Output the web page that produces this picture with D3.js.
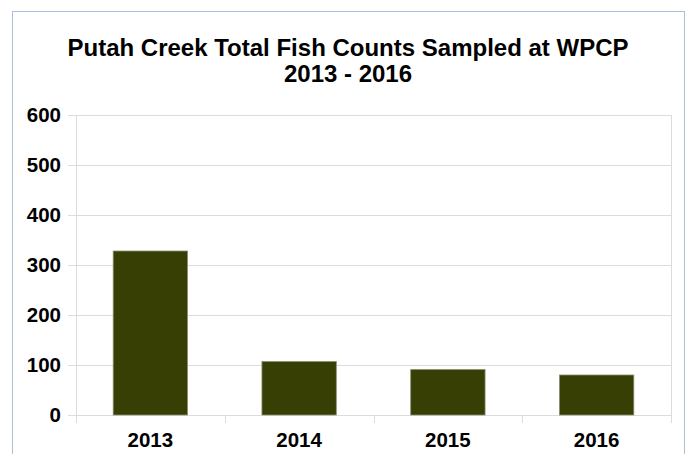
<!DOCTYPE html>
<html>
<head>
<meta charset="utf-8">
<script src="https://cdn.jsdelivr.net/npm/d3@7"></script>
<style>
  body { margin: 0; background: #fff; }
  text { font-family: "Liberation Sans", Arial, sans-serif; font-weight: bold; fill: #000; }
</style>
</head>
<body>
<div id="chart"></div>
<script>
var width = 688;
var height = 454;

// data
var years = ["2013", "2014", "2015", "2016"];
var counts = [328, 107, 91, 80];
var yTicks = [0, 100, 200, 300, 400, 500, 600];
var titleLines = ["Putah Creek Total Fish Counts Sampled at WPCP", "2013 - 2016"];

var plotLeft = 76, plotRight = 671, plotTop = 115, plotBottom = 415;

var svg = d3.select("#chart")
    .append("svg")
    .attr("width", width)
    .attr("height", height);

// outer frame
svg.append("rect")
    .attr("x", 12.5)
    .attr("y", 11.5)
    .attr("width", 672)
    .attr("height", 460)
    .attr("fill", "#fff")
    .attr("stroke", "#a9c0dc")
    .attr("stroke-width", 1);

var x = d3.scaleBand()
    .domain(years)
    .range([plotLeft, plotRight])
    .paddingInner(0.5)
    .paddingOuter(0.25);

var y = d3.scaleLinear()
    .domain([0, 600])
    .range([plotBottom, plotTop]);

// horizontal gridlines + left ticks
svg.append("g")
    .selectAll("line")
    .data(yTicks)
    .enter()
    .append("line")
    .attr("x1", plotLeft - 8)
    .attr("x2", plotRight)
    .attr("y1", function(d) { return Math.round(y(d)) + 0.5; })
    .attr("y2", function(d) { return Math.round(y(d)) + 0.5; })
    .attr("stroke", "#dcdcdc")
    .attr("stroke-width", 1);

// vertical edges of plot area
svg.append("g")
    .selectAll("line")
    .data([plotLeft, plotRight])
    .enter()
    .append("line")
    .attr("x1", function(d) { return d + 0.5; })
    .attr("x2", function(d) { return d + 0.5; })
    .attr("y1", plotTop)
    .attr("y2", plotBottom + 8)
    .attr("stroke", "#dcdcdc");

// category separator ticks below axis
var step = x.step();
svg.append("g")
    .selectAll("line")
    .data(years.slice(1))
    .enter()
    .append("line")
    .attr("x1", function(d) { return Math.round(x(d) - step * 0.25) + 0.5; })
    .attr("x2", function(d) { return Math.round(x(d) - step * 0.25) + 0.5; })
    .attr("y1", plotBottom)
    .attr("y2", plotBottom + 8)
    .attr("stroke", "#dcdcdc");

// bars
svg.append("g")
    .selectAll("rect")
    .data(counts)
    .enter()
    .append("rect")
    .attr("x", function(d, i) { return x(years[i]); })
    .attr("y", function(d) { return y(d); })
    .attr("width", x.bandwidth())
    .attr("height", function(d) { return y(0) - y(d); })
    .attr("fill", "#373f05")
    .attr("stroke", "#8d9070")
    .attr("stroke-width", 0.8);

// y labels
svg.append("g")
    .selectAll("text")
    .data(yTicks)
    .enter()
    .append("text")
    .attr("x", 61)
    .attr("y", function(d) { return y(d) + 7; })
    .attr("text-anchor", "end")
    .style("font-size", "20.5px")
    .text(function(d) { return d; });

// x labels
svg.append("g")
    .selectAll("text")
    .data(years)
    .enter()
    .append("text")
    .attr("x", function(d) { return x(d) + x.bandwidth() / 2; })
    .attr("y", 447)
    .attr("text-anchor", "middle")
    .style("font-size", "20.5px")
    .text(function(d) { return d; });

// title
svg.append("g")
    .selectAll("text")
    .data(titleLines)
    .enter()
    .append("text")
    .attr("x", 348)
    .attr("y", function(d, i) { return 56 + i * 26; })
    .attr("text-anchor", "middle")
    .style("font-size", "24px")
    .text(function(d) { return d; });
</script>
</body>
</html>
